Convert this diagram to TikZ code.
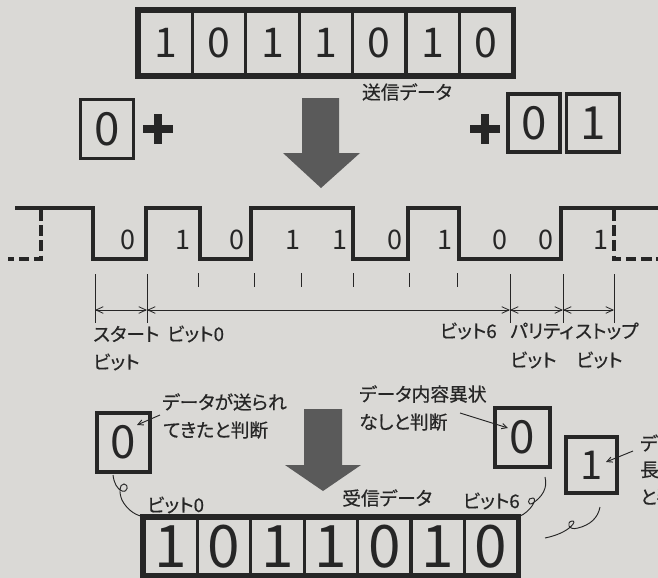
\documentclass[tikz,border=0pt]{standalone}
\usepackage{fontspec}
\usepackage{tikz}
\usetikzlibrary{arrows.meta,positioning}
\newfontfamily\jpfont[RawFeature=+palt, FakeBold=0.5]{Noto Sans CJK JP}
\newfontfamily\digitfont{Noto Sans CJK JP}
\definecolor{paper}{HTML}{DAD9D6}
\definecolor{ink}{HTML}{262626}
\definecolor{arrowgray}{HTML}{5A5A5A}

\begin{document}
\begin{tikzpicture}[x=0.03cm, y=-0.03cm,
        bitcell/.style={rectangle, draw=ink, line width=2.8pt, minimum width=1.6cm, minimum height=1.92cm, inner sep=0pt, text=ink, font=\digitfont\fontsize{35}{35}\selectfont},
        lowcell/.style={bitcell, minimum height=1.71cm, text height=36pt, text depth=0pt, font=\digitfont\fontsize{50}{50}\selectfont},
        smallbox/.style={rectangle, draw=ink, line width=3pt, minimum width=1.58cm, minimum height=1.76cm, inner sep=0pt, text=ink, font=\digitfont\fontsize{39}{39}\selectfont},
        frame/.style={draw=ink, line width=3.4pt},
        jptext/.style={inner sep=0pt, text=ink, font=\jpfont\fontsize{16}{18}\selectfont},
        wavebit/.style={inner sep=0pt, text=ink, font=\digitfont\fontsize{23}{23}\selectfont},
        wave/.style={draw=ink, line width=3.2pt, line join=miter},
        wavedash/.style={wave, dash pattern=on 9pt off 4pt},
        plussign/.style={draw=ink, line width=6pt},
        bigarrow/.style={fill=arrowgray},
        guide/.style={draw=ink, line width=0.7pt},
        dimarrow/.style={draw=ink, line width=0.7pt, {Straight Barb[length=2.2mm,width=2mm]}-{Straight Barb[length=2.2mm,width=2mm]}},
        pointer/.style={draw=ink, line width=0.8pt, -{Straight Barb[length=1.6mm,width=1.6mm]}},
        squiggle/.style={draw=ink, line width=0.8pt}
    ]
        \useasboundingbox (0,0) rectangle (658,578);
        \fill[paper] (0,0) rectangle (658,578);
        \clip (0,0) rectangle (658,578);

        \foreach \i/\b in {1/1,2/0,3/1,4/1,5/0,6/1,7/0}
            \node[bitcell] (sendcell\i) at (139+53.4*\i-26.7,43) {\b};
        \draw[frame] (sendcell1.north west) rectangle (sendcell7.south east);
        \node[jptext] (sendlabel) at (407,92) {送信データ};

        \node[smallbox] (startbox) at (107,129) {0};
        \draw[plussign] (143,129) -- (173,129) (158,114) -- (158,144);
        \draw[plussign] (470,129) -- (500,129) (485,114) -- (485,144);
        \node[smallbox, minimum width=1.55cm, minimum height=1.74cm] (paritybox) at (534,123) {0};
        \node[smallbox, minimum width=1.58cm, minimum height=1.74cm] (stopbox) at (593,123) {1};

        \fill[bigarrow] (302,98) -- (339,98) -- (339,153) -- (360,153) -- (321,188) -- (283,153) -- (302,153) -- cycle;

        \draw[wave] (15,208) -- (93,208) -- (93,259) -- (146,259) -- (146,208) -- (200,208) -- (200,259)
            -- (251,259) -- (251,208) -- (353,208) -- (353,259) -- (408,259) -- (408,208) -- (459,208)
            -- (459,259) -- (561,259) -- (561,208) -- (662,208);
        \draw[wavedash] (41,210) -- (41,259) -- (8,259);
        \draw[wavedash] (614,210) -- (614,259) -- (660,259);

        \foreach \b/\x in {0/128,1/183,0/237,1/293,1/340,0/395,1/445,0/500,0/546,1/601}
            \node[wavebit] (bit\x) at (\x,240) {\b};

        \foreach \x in {198,254,301,353,409,457}
            \draw[guide] (\x,273) -- (\x,287);

        \foreach \i/\x in {0/95,1/147,2/510,3/563,4/614} {
            \coordinate (mtop\i) at (\x,274);
            \coordinate (mbot\i) at (\x,323);
            \coordinate (m\i) at (\x,310);
            \draw[guide] (mtop\i) -- (mbot\i);
        }
        \draw[dimarrow] (m0) -- (m1);
        \draw[dimarrow] (m1) -- (m2);
        \draw[dimarrow] (m2) -- (m3);
        \draw[dimarrow] (m3) -- (m4);

        \node[jptext, anchor=west] (startlabel) at (93,334) {スタート};
        \node[jptext, anchor=west] (startbit) at (93,362) {ビット};
        \node[jptext, anchor=west] (bitzero) at (167,334) {ビット0};
        \node[jptext, anchor=east] (bitsix) at (497,331) {ビット6};
        \node[jptext, anchor=west] (paritylabel) at (510,331) {パリティ};
        \node[jptext, anchor=west] (paritybit) at (510,360) {ビット};
        \node[jptext, anchor=west] (stoplabel) at (575,331) {ストップ};
        \node[jptext, anchor=west] (stopbit) at (576,360) {ビット};

        \fill[bigarrow] (304,409) -- (342,409) -- (342,465) -- (361,465) -- (323,491) -- (285,465) -- (304,465) -- cycle;

        \node[smallbox, minimum width=1.59cm, minimum height=1.77cm] (gotbox) at (123.5,442.5) {0};
        \node[smallbox, minimum width=1.65cm, minimum height=1.77cm] (okbox) at (522.5,437.5) {0};
        \node[smallbox, minimum width=1.53cm, minimum height=1.68cm, font=\digitfont\fontsize{34}{34}\selectfont] (stopchk) at (591.5,465) {1};

        \node[jptext, anchor=west] (gottext) at (162,402) {データが送られ};
        \node[jptext, anchor=west] (gotjudge) at (163,430) {てきたと判断};
        \node[jptext, anchor=west] (oktext) at (359,394) {データ内容異状};
        \node[jptext, anchor=west] (okjudge) at (359,422) {なしと判断};
        \node[jptext, anchor=west] (chktext) at (640,443) {デー};
        \node[jptext, anchor=west] (chklen) at (640,470) {長の};
        \node[jptext, anchor=west] (chkjudge) at (640,497) {と判};

        \coordinate (gotfrom) at (160,415);
        \coordinate (gotto) at (137,425);
        \draw[pointer] (gotfrom) -- (gotto);
        \coordinate (okfrom) at (460,413);
        \coordinate (okto) at (508,428);
        \draw[pointer] (okfrom) -- (okto);
        \coordinate (chkfrom) at (633,451);
        \coordinate (chkto) at (606,462);
        \draw[pointer] (chkfrom) -- (chkto);

        \foreach \i/\b in {1/1,2/0,3/1,4/1,5/0,6/1,7/0}
            \node[lowcell] (recvcell\i) at (144+53.4*\i-26.7,546.5) {\b};
        \draw[frame] (recvcell1.north west) rectangle (recvcell7.south east);

        \node[jptext, anchor=west] (recvbitzero) at (147,505) {ビット0};
        \node[jptext, anchor=west] (recvlabel) at (342,498) {受信データ};
        \node[jptext, anchor=east] (recvbitsix) at (520,501) {ビット6};

        \coordinate (gotloop) at (113,475);
        \draw[squiggle] (gotloop) .. controls (114,483) and (117,489) .. (122,491)
            .. controls (128,493) and (129,484) .. (124,484)
            .. controls (119,484) and (119,493) .. (122,500)
            .. controls (126,508) and (134,515) .. (recvcell1.north west);
        \coordinate (okloop) at (545,477);
        \draw[squiggle] (okloop) .. controls (548,488) and (542,497) .. (533,503)
            .. controls (527,507) and (527,497) .. (533,498)
            .. controls (538,499) and (530,512) .. (recvcell7.north east);
        \coordinate (chkloop) at (600,507);
        \coordinate (chkend) at (545,538);
        \draw[squiggle] (chkloop) .. controls (598,518) and (590,525) .. (578,528)
            .. controls (568,531) and (566,522) .. (572,521)
            .. controls (578,520) and (570,533) .. (chkend);
    \end{tikzpicture}
\end{document}
